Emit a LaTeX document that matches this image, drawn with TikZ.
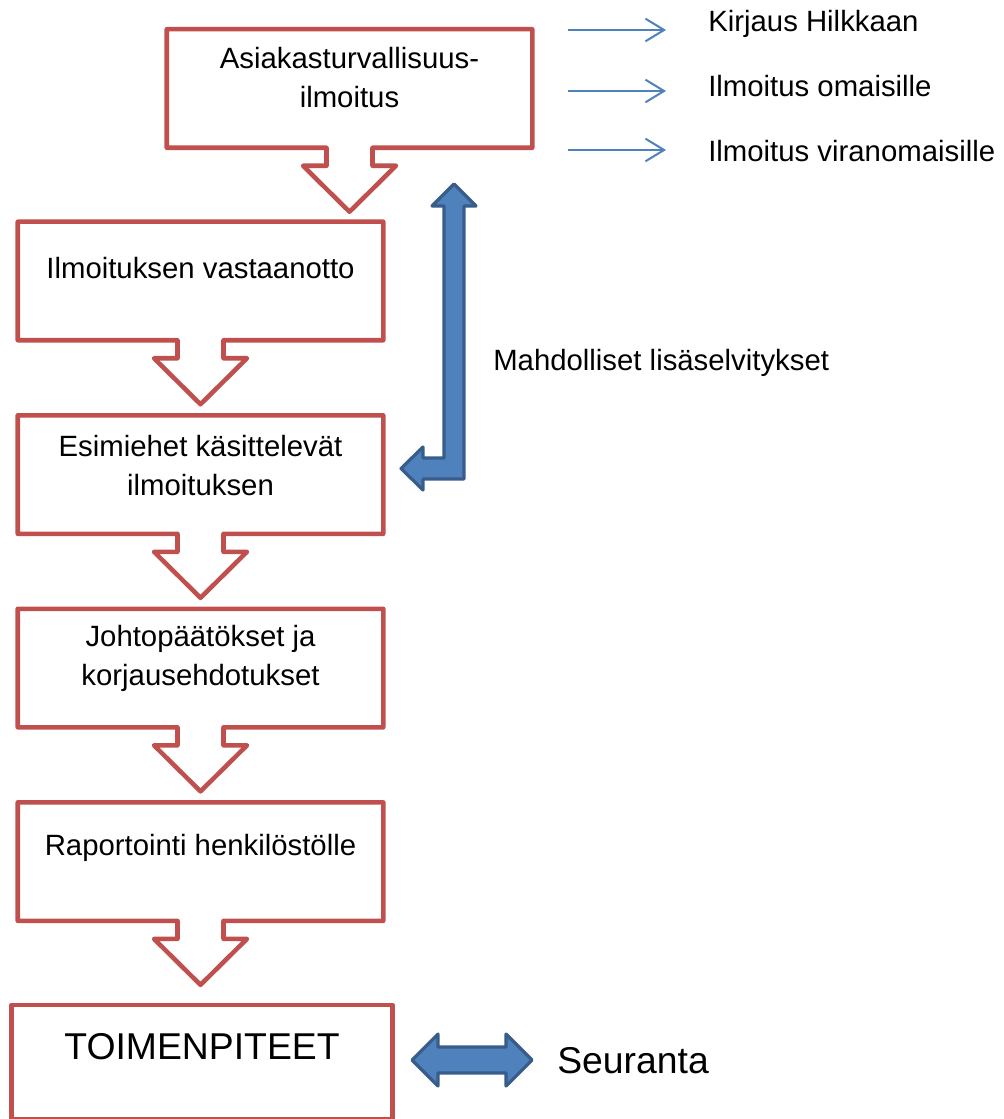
\documentclass[tikz,border=0pt]{standalone}
\usepackage{fontspec}
\setmainfont{Liberation Sans}
\usetikzlibrary{arrows.meta,positioning,calc}
\definecolor{boxRed}{HTML}{C0504D}
\definecolor{arrBlue}{HTML}{4F81BD}
\definecolor{arrEdge}{HTML}{385D8A}

% box with a downward arrow at its bottom
\newcommand{\downcallout}[1]{%
  \draw[callout] ($(#1.south)+(-23,0)$) -- (#1.south west) -- (#1.north west)
    -- (#1.north east) -- (#1.south east) -- ($(#1.south)+(23,0)$)
    -- ++(0,18) -- ++(23.5,0) -- ($(#1.south)+(0,64)$)
    -- ($(#1.south)+(-46.5,18)$) -- ++(23.5,0) -- cycle;}

\begin{document}
\begin{tikzpicture}[x=0.75pt, y=-0.75pt,
  box/.style={rectangle, minimum width=273.75pt, minimum height=88.5pt,
              inner sep=0pt},
  callout/.style={draw=boxRed, line width=3.4pt, line join=round, fill=white},
  boxtext/.style={align=center, font=\fontsize{22}{29.25}\selectfont},
  sidetext/.style={font=\fontsize{22}{29.25}\selectfont, inner sep=0pt},
  bigtext/.style={font=\fontsize{28}{34}\selectfont},
  thinarr/.style={-{Straight Barb[length=14pt, width=17pt]},
                  line width=1.5pt, arrBlue},
  fatarr/.style={fill=arrBlue, draw=arrEdge, line width=2.4pt,
                 line join=round},
  node distance=56.25pt
]
  \useasboundingbox (0,0) rectangle (1003,1119);

  % flow boxes
  \node[box] (asia) at (349.5,88.5) {};
  \node[box] (vast) at (200.5,281) {};
  \node[box, below=of vast]  (esim)  {};
  \node[box, below=of esim]  (johto) {};
  \node[box, below=of johto] (rap)   {};
  \node[box, minimum width=285pt, minimum height=85.5pt,
        below=63pt of rap, xshift=1.125pt] (toim) {};

  \foreach \n in {asia,vast,esim,johto,rap} {\downcallout{\n}}
  \draw[callout] (toim.south west) rectangle (toim.north east);

  \node[boxtext] (asia-t)  at ($(asia.north)+(0,48)$)  {Asiakasturvallisuus-\\ilmoitus};
  \node[boxtext] (vast-t)  at ($(vast.north)+(0,46)$)  {Ilmoituksen vastaanotto};
  \node[boxtext] (esim-t)  at ($(esim.north)+(0,50)$)  {Esimiehet käsittelevät\\ilmoituksen};
  \node[boxtext] (johto-t) at ($(johto.north)+(0,50)$) {Johtopäätökset ja\\korjausehdotukset};
  \node[boxtext] (rap-t)   at ($(rap.north)+(0,46)$)   {Raportointi henkilöstölle};
  \node[bigtext] (toim-t)  at ($(toim.north)+(0,42)$)  {TOIMENPITEET};

  % notices on the right
  \foreach \ay/\ty/\nm/\txt in {30/32/kirj/Kirjaus Hilkkaan,
                                91/97/omai/Ilmoitus omaisille,
                                150/162/vira/Ilmoitus viranomaisille} {
    \node[sidetext, anchor=base west] (\nm) at (708,\ty) {\txt};
    \coordinate (\nm-from) at (568,\ay);
    \coordinate (\nm-to) at (666,\ay);
    \draw[thinarr] (\nm-from) -- (\nm-to);
  }

  % further inquiries
  \node[sidetext, anchor=west] (lisa) at (493,363) {Mahdolliset lisäselvitykset};
  \draw[fatarr] (454,184) coordinate (lisa-up) -- (476,206) -- (464,206)
    -- (464,479) -- (423,479) -- (423,490) -- (401,468.5) coordinate (lisa-tip)
    -- (423,447) -- (423,458) -- (444,458) -- (444,206) -- (432,206) -- cycle;

  % follow-up
  \node[bigtext, anchor=west, inner sep=0pt] (seur) at (557,1061) {Seuranta};
  \draw[fatarr] (412,1060) -- (438,1034) -- (438,1047) -- (506,1047)
    -- (506,1034) -- (532,1060) -- (506,1086) -- (506,1073) -- (438,1073)
    -- (438,1086) -- cycle;
\end{tikzpicture}
\end{document}
